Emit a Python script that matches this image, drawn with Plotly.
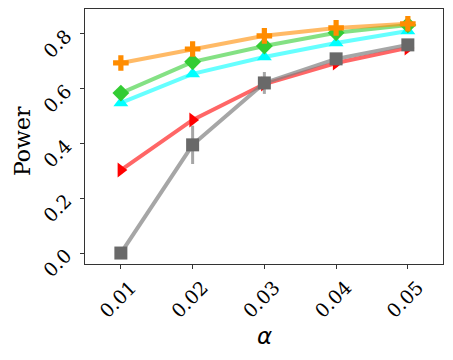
import plotly.graph_objects as go

alpha = [0.01, 0.02, 0.03, 0.04, 0.05]

power_red = [0.303, 0.486, 0.617, 0.694, 0.749]
err_red = [0.0, 0.01, 0.01, 0.015, 0.01]
power_cyan = [0.548, 0.654, 0.716, 0.767, 0.811]
power_green = [0.584, 0.698, 0.756, 0.804, 0.833]
power_orange = [0.694, 0.745, 0.793, 0.822, 0.837]
power_gray = [0.0, 0.395, 0.621, 0.709, 0.760]
err_gray = [0.0, 0.07, 0.04, 0.02, 0.015]

tick_font = dict(family="DejaVu Serif", size=19, color="black")

series = [
    # (y, err, line colour, marker colour, symbol)
    (power_red, err_red, "rgba(255,0,0,0.6)", "red", "triangle-right"),
    (power_cyan, None, "rgba(0,255,255,0.6)", "cyan", "triangle-up"),
    (power_green, None, "rgba(50,205,50,0.6)", "#33cc33", "diamond"),
    (power_orange, None, "rgba(255,140,0,0.6)", "darkorange", "cross"),
    (power_gray, err_gray, "rgba(128,128,128,0.7)", "dimgray", "square"),
]

fig = go.Figure()
for y, err, lc, mc, sym in series:
    fig.add_trace(go.Scatter(
        x=alpha, y=y,
        mode="lines+markers",
        line=dict(color=lc, width=4),
        marker=dict(color=mc, symbol=sym, size=13, line=dict(width=0)),
        error_y=dict(type="data", array=err, visible=err is not None,
                     color=lc, thickness=3, width=0),
        showlegend=False,
    ))

# page body has an 8px margin, so the figure is a bit smaller than the window
fig.update_layout(
    width=445, height=352,
    margin=dict(l=77, r=10, t=1, b=96),
    plot_bgcolor="white",
    paper_bgcolor="white",
)
fig.update_xaxes(
    automargin=False,
    range=[0.005, 0.0549],
    tickvals=alpha,
    ticktext=["0.01", "0.02", "0.03", "0.04", "0.05"],
    tickangle=-45,
    tickfont=tick_font,
    ticklabelshift=10,
    ticks="outside", ticklen=4, tickcolor="#333",
    showline=True, linecolor="#333", linewidth=1, mirror=True,
    showgrid=False, zeroline=False,
)
fig.update_yaxes(
    automargin=False,
    range=[-0.04, 0.891],
    tickvals=[0.0, 0.2, 0.4, 0.6, 0.8],
    ticktext=["0.0", "0.2", "0.4", "0.6", "0.8"],
    tickangle=-45,
    tickfont=tick_font,
    ticklabelstandoff=10,
    ticks="outside", ticklen=4, tickcolor="#333",
    showline=True, linecolor="#333", linewidth=1, mirror=True,
    showgrid=False, zeroline=False,
)

# axis titles
fig.add_annotation(text="<i>α</i>", xref="paper", yref="paper", x=0.5, y=-0.282,
                   xanchor="center", yanchor="middle", showarrow=False,
                   font=dict(family="DejaVu Sans", size=23, color="black"))
fig.add_annotation(text="Power", xref="paper", yref="paper", x=-0.176, y=0.482,
                   xanchor="center", yanchor="middle", showarrow=False, textangle=-90,
                   font=dict(family="DejaVu Serif", size=22, color="black"))

fig.write_html("out.html")
